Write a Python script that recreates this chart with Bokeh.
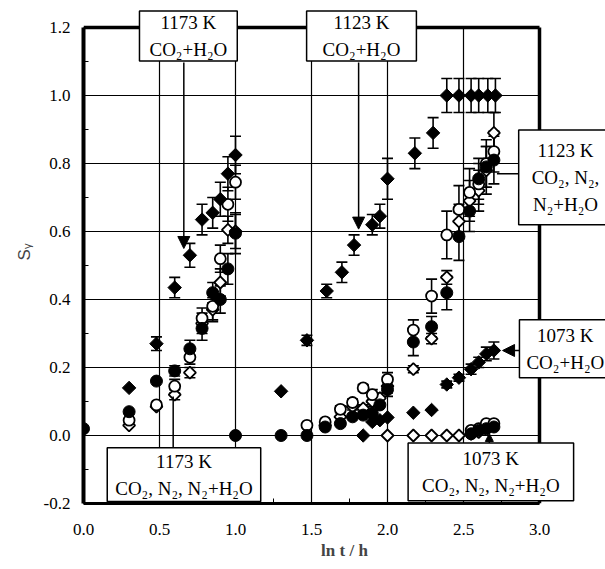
import numpy as np
from bokeh.plotting import figure
from bokeh.models import (ColumnDataSource, Whisker, TeeHead, Label, Arrow, NormalHead,
                          FixedTicker, PrintfTickFormatter, Range1d)
from bokeh.embed import file_html
from bokeh.resources import INLINE

# ---------------- data ----------------
# 1173 K
x_1173 = [0.30, 0.48, 0.60, 0.70, 0.78, 0.85, 0.90, 0.95, 1.00]
h2o_1173_y = [0.14, 0.27, 0.435, 0.53, 0.635, 0.655, 0.695, 0.77, 0.825]
h2o_1173_e = [0.0, 0.02, 0.03, 0.035, 0.045, 0.045, 0.05, 0.05, 0.055]
co2_1173_x = [0.00, 0.30, 0.48, 0.60, 0.70, 0.78, 0.85, 0.90, 0.95, 1.00]
co2_1173_y = [0.02, 0.07, 0.16, 0.19, 0.255, 0.315, 0.42, 0.40, 0.49, 0.595]
co2_1173_e = [0.0, 0.0, 0.0, 0.015, 0.025, 0.035, 0.03, 0.04, 0.045, 0.06]
n2_1173_y = [0.045, 0.09, 0.145, 0.23, 0.345, 0.38, 0.52, 0.68, 0.745]
n2_1173_e = [0.0, 0.0, 0.02, 0.02, 0.03, 0.04, 0.04, 0.05, 0.05]
n2h2o_1173_y = [0.03, 0.085, 0.12, 0.185, 0.33, 0.37, 0.45, 0.605, 0.60]
n2h2o_1173_e = [0.0, 0.0, 0.015, 0.015, 0.03, 0.035, 0.04, 0.04, 0.05]

# 1123 K
h2o_1123_x = [1.30, 1.47, 1.60, 1.70, 1.78, 1.90, 1.95, 2.00, 2.18, 2.30, 2.39, 2.47, 2.55, 2.60, 2.66, 2.71]
h2o_1123_y = [0.13, 0.28, 0.425, 0.48, 0.56, 0.62, 0.645, 0.755, 0.83, 0.89, 1.0, 1.0, 1.0, 1.0, 1.0, 1.0]
h2o_1123_e = [0.0, 0.015, 0.02, 0.03, 0.03, 0.03, 0.035, 0.06, 0.045, 0.045, 0.05, 0.05, 0.05, 0.05, 0.05, 0.05]
co2_1123_x = [1.00, 1.30, 1.47, 1.59, 1.69, 1.77, 1.84, 1.90, 1.95, 2.00, 2.17, 2.29, 2.39, 2.47, 2.54, 2.60, 2.65, 2.70]
co2_1123_y = [0.0, 0.0, 0.0, 0.025, 0.035, 0.055, 0.06, 0.065, 0.09, 0.135, 0.275, 0.32, 0.42, 0.585, 0.66, 0.755, 0.79, 0.81]
co2_1123_e = [0, 0, 0, 0, 0, 0, 0, 0, 0, 0.02, 0.04, 0.03, 0.05, 0.07, 0.06, 0.06, 0.06, 0.07]
n2_1123_x = [1.47, 1.59, 1.69, 1.77, 1.84, 1.90, 2.00, 2.17, 2.29, 2.39, 2.47, 2.54, 2.60, 2.65, 2.70]
n2_1123_y = [0.03, 0.04, 0.077, 0.097, 0.14, 0.12, 0.165, 0.31, 0.41, 0.59, 0.665, 0.715, 0.74, 0.80, 0.835]
n2_1123_e = [0, 0, 0.01, 0.01, 0.01, 0.015, 0.02, 0.03, 0.05, 0.07, 0.07, 0.07, 0.06, 0.07, 0.06]
n2h2o_1123_x = [1.59, 1.69, 1.77, 1.84, 1.90, 1.95, 2.00, 2.17, 2.29, 2.39, 2.47, 2.54, 2.60, 2.65, 2.70]
n2h2o_1123_y = [0.03, 0.055, 0.085, 0.08, 0.10, 0.11, 0.145, 0.195, 0.285, 0.465, 0.63, 0.69, 0.72, 0.78, 0.89]
n2h2o_1123_e = [0, 0, 0.01, 0.01, 0.015, 0.015, 0.02, 0.01, 0.015, 0.02, 0.05, 0.06, 0.06, 0.07, 0.06]

# 1073 K
h2o_1073_x = [1.84, 1.90, 1.95, 2.00, 2.17, 2.29, 2.39, 2.47, 2.55, 2.60, 2.65, 2.70]
h2o_1073_y = [0.0, 0.04, 0.045, 0.053, 0.067, 0.075, 0.15, 0.17, 0.195, 0.215, 0.24, 0.25]
h2o_1073_e = [0, 0, 0, 0, 0, 0, 0.01, 0.01, 0.015, 0.015, 0.02, 0.025]
co2_1073_x = [2.55, 2.60, 2.65, 2.70]
co2_1073_y = [0.005, 0.015, 0.02, 0.025]
n2_1073_x = [2.55, 2.60, 2.65, 2.70]
n2_1073_y = [0.015, 0.02, 0.035, 0.035]
n2h2o_1073_x = [2.00, 2.17, 2.29, 2.39, 2.47, 2.55, 2.60]
n2h2o_1073_y = [0.0, 0.0, 0.0, 0.0, 0.0, 0.005, 0.01]

x_ticks = [0.0, 0.5, 1.0, 1.5, 2.0, 2.5, 3.0]
y_ticks = [-0.2, 0.0, 0.2, 0.4, 0.6, 0.8, 1.0, 1.2]
x_grid = [0.5, 1.0, 1.5, 2.0, 2.5]
y_grid = [0.0, 0.2, 0.4, 0.6, 0.8, 1.0]
X_MIN, X_MAX = 0.0, 3.0
Y_MIN, Y_MAX = -0.2, 1.2

SERIF = "Liberation Serif"

# the frame reaches past the axes' ends so that the note boxes are not clipped
p = figure(width=605, height=569,
           x_range=Range1d(X_MIN, 3.4342), y_range=Range1d(Y_MIN, 1.2794),
           output_backend="svg", toolbar_location=None,
           min_border_left=83, min_border_right=0, min_border_top=0, min_border_bottom=66)
p.background_fill_color = "white"
p.border_fill_color = "white"
p.outline_line_color = None
p.xgrid.visible = False
p.ygrid.visible = False

# axes
p.xaxis.ticker = FixedTicker(ticks=x_ticks, minor_ticks=list(np.arange(0, 3.01, 0.25)))
p.yaxis.ticker = FixedTicker(ticks=y_ticks, minor_ticks=list(np.arange(-0.2, 1.21, 0.1)))
p.xaxis.bounds = (X_MIN, X_MAX)
p.yaxis.bounds = (Y_MIN, Y_MAX)
for ax in (p.xaxis, p.yaxis):
    ax.formatter = PrintfTickFormatter(format="%.1f")
    ax.major_tick_in = 0
    ax.major_tick_out = 0
    ax.minor_tick_in = 5
    ax.minor_tick_out = 0
    ax.minor_tick_line_color = "black"
    ax.axis_line_color = "black"
    ax.major_label_text_font = SERIF
    ax.major_label_text_font_size = "17px"
    ax.major_label_text_color = "black"
p.yaxis.axis_line_width = 4
p.xaxis.axis_line_width = 3
p.xaxis.major_label_standoff = 20
p.yaxis.major_label_standoff = 13
p.xaxis.axis_label = "ln t / h"
p.xaxis.axis_label_text_font = SERIF
p.xaxis.axis_label_text_font_style = "bold"
p.xaxis.axis_label_text_font_size = "17px"
p.xaxis.axis_label_standoff = 3
p.yaxis.axis_label = "Sᵧ"
p.yaxis.axis_label_text_font = "Liberation Sans"
p.yaxis.axis_label_text_font_style = "normal"
p.yaxis.axis_label_text_font_size = "17px"
p.yaxis.axis_label_standoff = 7

# grid lines and the top / right frame edges, bounded to the axes' extent
p.segment(x0=x_grid, y0=[Y_MIN] * len(x_grid), x1=x_grid, y1=[Y_MAX] * len(x_grid),
          line_color="black", line_width=1.2)
p.segment(x0=[X_MIN] * len(y_grid), y0=y_grid, x1=[X_MAX] * len(y_grid), y1=y_grid,
          line_color="black", line_width=1.2)
p.segment(x0=[X_MIN, X_MAX], y0=[Y_MAX, Y_MIN], x1=[X_MAX, X_MAX], y1=[Y_MAX, Y_MAX],
          line_color="black", line_width=3.5)


def series(x, y, e, kind):
    if e is None:
        e = [0.0] * len(x)
    xe = [a for a, d in zip(x, e) if d > 0]
    lo = [b - d for b, d in zip(y, e) if d > 0]
    hi = [b + d for b, d in zip(y, e) if d > 0]
    if kind == "fd":
        p.scatter(x, y, marker="square", angle=np.pi / 4, size=9.5,
                  fill_color="black", line_color="black", line_width=1)
    elif kind == "fc":
        p.scatter(x, y, marker="circle", size=12,
                  fill_color="black", line_color="black", line_width=1)
    elif kind == "oc":
        p.scatter(x, y, marker="circle", size=11,
                  fill_color="white", line_color="black", line_width=1.8)
    elif kind == "od":
        p.scatter(x, y, marker="square", angle=np.pi / 4, size=8.5,
                  fill_color="white", line_color="black", line_width=1.8)
    if xe:
        src = ColumnDataSource(dict(base=xe, lower=lo, upper=hi))
        w = Whisker(base="base", lower="lower", upper="upper", source=src,
                    line_color="black", line_width=1.6,
                    upper_head=TeeHead(size=11, line_width=1.6, line_color="black"),
                    lower_head=TeeHead(size=11, line_width=1.6, line_color="black"))
        p.add_layout(w)


series(x_1173, n2h2o_1173_y, n2h2o_1173_e, "od")
series(x_1173, n2_1173_y, n2_1173_e, "oc")
series(co2_1173_x, co2_1173_y, co2_1173_e, "fc")
series(x_1173, h2o_1173_y, h2o_1173_e, "fd")

series(n2h2o_1123_x, n2h2o_1123_y, n2h2o_1123_e, "od")
series(n2_1123_x, n2_1123_y, n2_1123_e, "oc")
series(co2_1123_x, co2_1123_y, co2_1123_e, "fc")
series(h2o_1123_x, h2o_1123_y, h2o_1123_e, "fd")

series(n2h2o_1073_x, n2h2o_1073_y, None, "od")
series(n2_1073_x, n2_1073_y, None, "oc")
series(co2_1073_x, co2_1073_y, None, "fc")
series(h2o_1073_x, h2o_1073_y, h2o_1073_e, "fd")

# ---------------- callout lines ----------------
def arrow(x0, y0, x1, y1, size):
    p.add_layout(Arrow(end=NormalHead(size=size, fill_color="black", line_color="black", line_width=1),
                       x_start=x0, y_start=y0, x_end=x1, y_end=y1,
                       line_color="black", line_width=1.5))

arrow(0.66, 1.097, 0.66, 0.55, 12)
arrow(1.81, 1.097, 1.81, 0.607, 12)
arrow(2.888, 0.25, 2.757, 0.25, 12)
arrow(2.67, -0.03, 2.67, 0.006, 8)
p.segment(x0=[2.888, 0.59], y0=[0.77, -0.04], x1=[2.72, 0.59], y1=[0.77, 0.115],
          line_color="black", line_width=1.5)

# ---------------- boxed notes ----------------
def box(x, y, text, pad):
    common = dict(x=x, y=y, text=text, text_align="center", text_baseline="middle",
                  text_font=SERIF, text_font_size="19px", text_line_height=1.28,
                  padding=pad)
    p.add_layout(Label(x_offset=3, y_offset=-3, text_alpha=0.0,
                       background_fill_color="#999999", **common))
    p.add_layout(Label(text_color="black", background_fill_color="white",
                       border_line_color="black", border_line_width=1.5, **common))

box(0.69, 1.175, "1173 K\nCO₂+H₂O", dict(left=10, right=10, top=1, bottom=1))
box(1.829, 1.175, "1123 K\nCO₂+H₂O", dict(left=16, right=16, top=1, bottom=1))
box(3.171, 0.759, "1123 K\nCO₂, N₂,\nN₂+H₂O", dict(left=13, right=13, top=10, bottom=10))
box(3.17, 0.255, "1073 K\nCO₂+H₂O", dict(left=7, right=7, top=5, bottom=5))
box(0.661, -0.115, "1173 K\nCO₂, N₂, N₂+H₂O", dict(left=8, right=8, top=3, bottom=3))
box(2.68, -0.107, "1073 K\nCO₂, N₂, N₂+H₂O", dict(left=14, right=14, top=5, bottom=5))

open("out.html", "w").write(file_html(p, INLINE))
